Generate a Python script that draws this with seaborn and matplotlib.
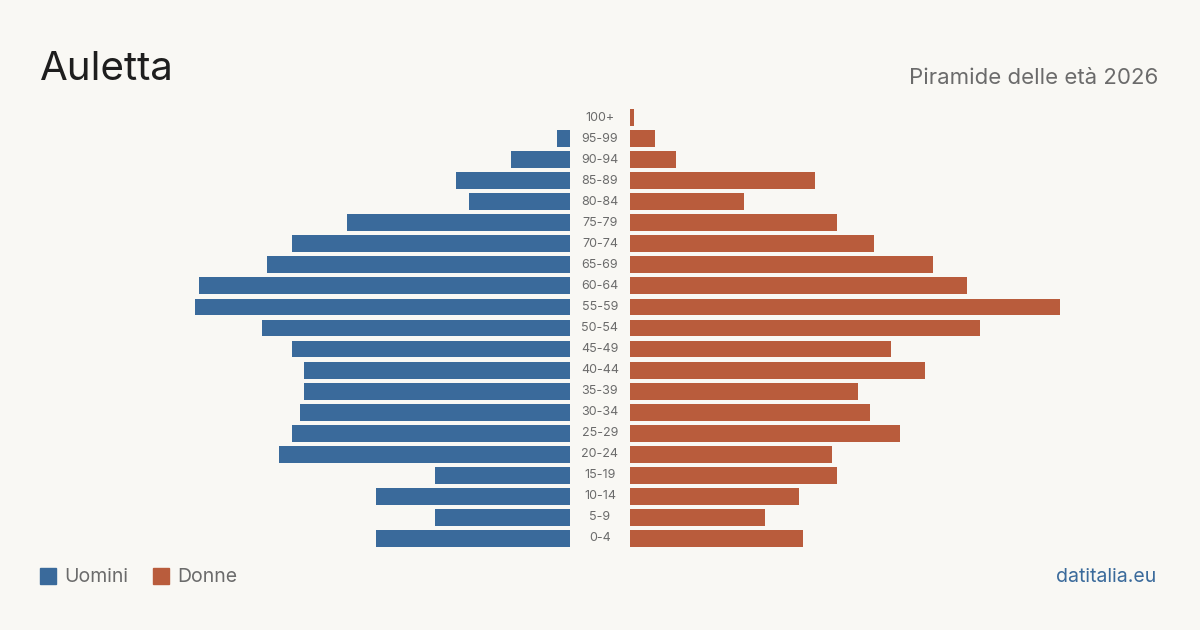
import numpy as np
import pandas as pd
import seaborn as sns
import matplotlib.pyplot as plt

ages = ["100+", "95-99", "90-94", "85-89", "80-84", "75-79", "70-74", "65-69",
        "60-64", "55-59", "50-54", "45-49", "40-44", "35-39", "30-34", "25-29",
        "20-24", "15-19", "10-14", "5-9", "0-4"]
uomini = [0, 3, 14, 27, 24, 53, 66, 72, 88, 89, 73, 66, 63, 63, 64, 66, 69, 32, 46, 32, 46]
donne = [1, 6, 11, 44, 27, 49, 58, 72, 80, 102, 83, 62, 70, 54, 57, 64, 48, 49, 40, 32, 41]

bg = "#f9f8f4"
blue = "#3a6a9b"
orange = "#b95c3c"
grey = "#6b6b6b"

sns.set_theme(style="white")
plt.rcParams['font.family'] = ['Inter', 'DejaVu Sans']

df = pd.DataFrame({"age": ages, "uomini": uomini, "donne": donne})

W, H = 1200, 630
fig = plt.figure(figsize=(12, 6.3), dpi=100, facecolor=bg)

# bars scaled ~4.215 px per person, axes 500 px wide each
ax_w = 500
xmax = ax_w / 4.215
top, bottom = 107, 549
axl = fig.add_axes([(570 - ax_w) / W, 1 - bottom / H, ax_w / W, (bottom - top) / H])
axr = fig.add_axes([630 / W, 1 - bottom / H, ax_w / W, (bottom - top) / H])

sns.barplot(data=df, x="uomini", y="age", ax=axl, color=blue, width=0.8,
            orient="h", saturation=1, linewidth=0)
sns.barplot(data=df, x="donne", y="age", ax=axr, color=orange, width=0.8,
            orient="h", saturation=1, linewidth=0)

for ax in (axl, axr):
    ax.set_facecolor(bg)
    ax.set_ylim(len(ages) - 0.5, -0.5)
    ax.set_xlabel("")
    ax.set_ylabel("")
    ax.set_xticks([])
    ax.set_yticks([])
    sns.despine(ax=ax, left=True, bottom=True)
axl.set_xlim(xmax, 0)
axr.set_xlim(0, xmax)

# age labels in the gap
for i, a in enumerate(ages):
    axr.text(-30 / 4.215, i, a, ha="center", va="center", fontsize=9, color=grey)

fig.text(40 / W, 1 - 69 / H, "Auletta", fontsize=29, color="#1e1e1e", va="center", ha="left")
fig.text(1158 / W, 1 - 78 / H, "Piramide delle età 2026", fontsize=16, color=grey,
         va="center", ha="right")

# legend
for x0, lab, col in [(40, "Uomini", blue), (153, "Donne", orange)]:
    fig.patches.append(plt.Rectangle((x0 / W, 1 - 584 / H), 16 / W, 16 / H,
                                     transform=fig.transFigure, color=col))
    fig.text((x0 + 24) / W, 1 - 577 / H, lab, fontsize=14, color=grey, va="center", ha="left")

fig.text(1156 / W, 1 - 577 / H, "datitalia.eu", fontsize=14, color=blue, va="center", ha="right")

fig.savefig("out.png", dpi=100, facecolor=bg)
